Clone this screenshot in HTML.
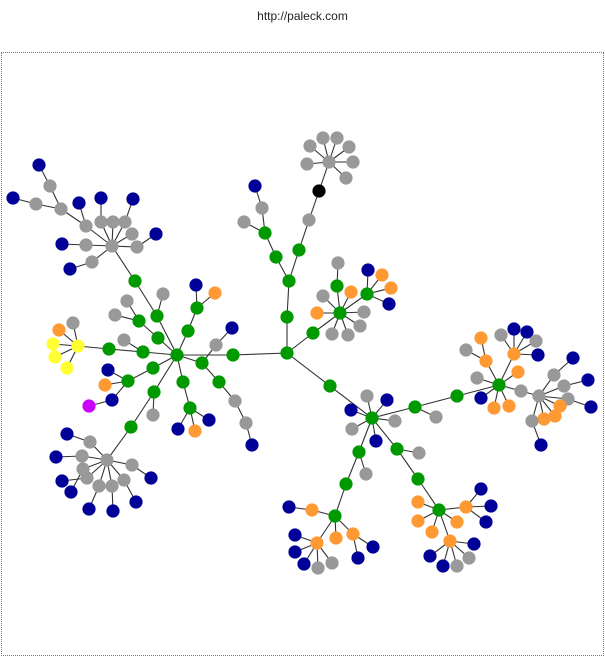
<!DOCTYPE html>
<html><head><meta charset="utf-8"><style>
body{margin:0;background:#fff;width:605px;height:656px;overflow:hidden;position:relative;font-family:"Liberation Sans",sans-serif}
#t{position:absolute;top:9px;left:0;width:605px;text-align:center;font-size:12px;color:#222}
#f{position:absolute;left:1px;top:52px;width:601px;height:602px;border:1px dotted #777}
svg{position:absolute;left:0;top:0}
</style></head><body>
<div id="t">http://paleck.com</div>
<div id="f"></div>
<svg id="s" width="605" height="656"></svg>
<script>
var C={g:"#009900",y:"#999999",b:"#000099",o:"#ff9933",l:"#ffff33",m:"#cc00ff",k:"#000000"};
var N={};var E=[];
function n(id,x,y,c,p){N[id]=[x,y,c];if(p)E.push([p,id]);}
n("R",287,353,"g");n("A",177,355,"g");n("a1",233,355,"g","R");E.push(["a1","A"]);
n("p1",157,316,"g","A");n("p2",135,281,"g","p1");n("G1",112,246,"y","p2");n("p1g",163,294,"y","p1");
n("q1",86,226,"y","G1");n("q2",61,209,"y","q1");n("q3",50,186,"y","q2");n("q4",39,165,"b","q3");
n("q5",36,204,"y","q2");n("q6",13,198,"b","q5");n("q7",79,203,"b","q1");
n("q8",101,222,"y","G1");n("q9",101,198,"b","q8");n("q10",113,222,"y","G1");n("q11",125,222,"y","G1");n("q12",133,199,"b","q11");
n("q13",132,234,"y","G1");n("q14",137,247,"y","G1");n("q15",156,234,"b","q14");n("q16",86,245,"y","G1");n("q17",62,244,"b","q16");
n("q18",92,262,"y","G1");n("q19",70,269,"b","q18");
n("h1",143,352,"g","A");n("h2",109,349,"g","h1");n("Y",78,346,"l","h2");n("h3",124,340,"y","h1");
n("y1",73,323,"y","Y");n("y2",59,330,"o","Y");n("y3",53,344,"l","Y");n("y4",55,357,"l","Y");n("y5",67,368,"l","Y");
n("k1",158,338,"g","A");n("k2",139,321,"g","k1");n("k3",127,301,"y","k2");n("k4",115,315,"y","k2");
n("m1",188,331,"g","A");n("m2",197,308,"g","m1");n("m3",196,285,"b","m2");n("m4",215,293,"o","m2");
n("r1",202,363,"g","A");n("r2",216,345,"y","r1");n("r3",232,328,"b","r2");n("r4",219,382,"g","r1");n("r5",235,401,"y","r4");n("r6",246,423,"y","r5");n("r7",252,445,"b","r6");
n("s1",183,382,"g","A");n("s2",190,408,"g","s1");n("s3",178,429,"b","s2");n("s4",195,431,"o","s2");n("s5",209,420,"b","s2");
n("t1",153,368,"g","A");n("t2",128,381,"g","t1");n("t3",108,370,"b","t2");n("t4",105,385,"o","t2");n("t5",112,400,"b","t2");n("t6",89,406,"m","t5");
n("u1",154,392,"g","A");n("u2",153,415,"y","u1");n("u3",131,427,"g","u1");n("G2",107,460,"y","u3");
n("v1",90,442,"y","G2");n("v2",67,434,"b","v1");n("v3",82,456,"y","G2");n("v4",56,457,"b","v3");n("v5",83,469,"y","G2");n("v6",71,492,"b","v5");
n("v7",87,478,"y","G2");n("v8",62,481,"b","v7");n("v9",99,486,"y","G2");n("v10",89,509,"b","v9");n("v11",112,486,"y","G2");n("v12",113,511,"b","v11");
n("v13",124,480,"y","G2");n("v14",136,502,"b","v13");n("v15",132,465,"y","G2");n("v16",151,478,"b","v15");
n("w1",287,317,"g","R");n("w2",289,281,"g","w1");n("w3",276,257,"g","w2");n("w4",265,233,"g","w3");n("w5",262,208,"y","w4");n("w6",255,186,"b","w5");n("w7",244,222,"y","w4");
n("x1",299,250,"g","w2");n("x2",309,220,"y","x1");n("x3",319,191,"k","x2");n("G3",329,162,"y","x3");
n("x4",307,164,"y","G3");n("x5",310,146,"y","G3");n("x6",323,138,"y","G3");n("x7",337,138,"y","G3");n("x8",349,147,"y","G3");n("x9",353,162,"y","G3");n("x10",346,178,"y","G3");
n("c0",313,333,"g","R");n("Cc",340,313,"g","c0");n("c1",337,286,"g","Cc");n("c2",338,263,"y","c1");n("c3",323,296,"y","Cc");n("c4",351,292,"o","Cc");n("c5",317,313,"o","Cc");
n("c6",364,312,"y","Cc");n("c7",360,326,"y","Cc");n("c8",348,335,"y","Cc");n("c9",332,334,"y","Cc");n("c10",367,294,"g","Cc");
n("c11",368,270,"b","c10");n("c12",382,275,"o","c10");n("c13",391,288,"o","c10");n("c14",389,304,"b","c10");
n("d0",330,386,"g","R");n("D",372,418,"g","d0");n("d1",367,396,"y","D");n("d2",387,400,"b","D");n("d3",351,410,"b","D");n("d4",352,429,"y","D");n("d5",395,421,"y","D");n("d6",376,441,"b","D");
n("d7",415,407,"g","D");n("d8",436,417,"y","d7");n("d9",457,396,"g","d7");n("Ee",499,385,"g","d9");
n("e1",486,361,"o","Ee");n("e2",466,350,"y","e1");n("e3",481,338,"o","e1");n("e4",514,354,"o","Ee");n("e5",501,335,"y","e4");n("e6",514,329,"b","e4");n("e7",527,332,"b","e4");n("e8",536,341,"y","e4");n("e9",538,355,"b","e4");
n("e10",518,372,"o","Ee");n("e11",477,378,"y","Ee");n("e12",481,398,"b","Ee");n("e13",494,408,"o","Ee");n("e14",509,406,"o","Ee");n("e15",521,391,"y","Ee");n("F",539,396,"y","e15");
n("f1",554,375,"y","F");n("f2",573,358,"b","f1");n("f3",564,386,"y","F");n("f4",588,380,"b","f3");n("f5",568,399,"y","F");n("f6",591,407,"b","f5");
n("f7",560,406,"o","F");n("f8",555,416,"o","F");n("f9",544,419,"o","F");n("f10",532,421,"y","F");n("f11",541,445,"b","f10");
n("g1",359,452,"g","D");n("g2",366,474,"y","g1");n("g3",346,484,"g","g1");n("H",335,516,"g","g3");
n("h4",312,510,"o","H");n("h5",289,507,"b","h4");n("h6",317,543,"o","H");n("h7",295,535,"b","h6");n("h8",295,552,"b","h6");n("h9",304,564,"b","h6");n("h10",318,568,"y","h6");n("h11",332,563,"y","h6");
n("h12",336,538,"o","H");n("h13",353,534,"o","H");n("h14",358,558,"b","h13");n("h15",373,547,"b","h13");
n("i1",397,449,"g","D");n("i2",419,453,"y","i1");n("i3",418,479,"g","i1");n("I",439,510,"g","i3");
n("i4",418,502,"o","I");n("i5",418,521,"o","I");n("i6",432,532,"o","I");n("i7",457,522,"o","I");n("i8",466,507,"o","I");
n("i9",481,489,"b","i8");n("i10",491,506,"b","i8");n("i11",486,522,"b","i8");n("i12",450,541,"o","I");
n("i13",430,556,"b","i12");n("i14",443,566,"b","i12");n("i15",457,566,"y","i12");n("i16",469,558,"y","i12");n("i17",474,544,"b","i12");
var s="";E.forEach(function(e){var a=N[e[0]],b=N[e[1]];s+='<line x1="'+a[0]+'" y1="'+a[1]+'" x2="'+b[0]+'" y2="'+b[1]+'" stroke="#333" stroke-width="1.1"/>';});
for(var k in N){var p=N[k];s+='<circle cx="'+p[0]+'" cy="'+p[1]+'" r="6.6" fill="'+C[p[2]]+'"/>';}
document.getElementById("s").innerHTML=s;
</script>
</body></html>
